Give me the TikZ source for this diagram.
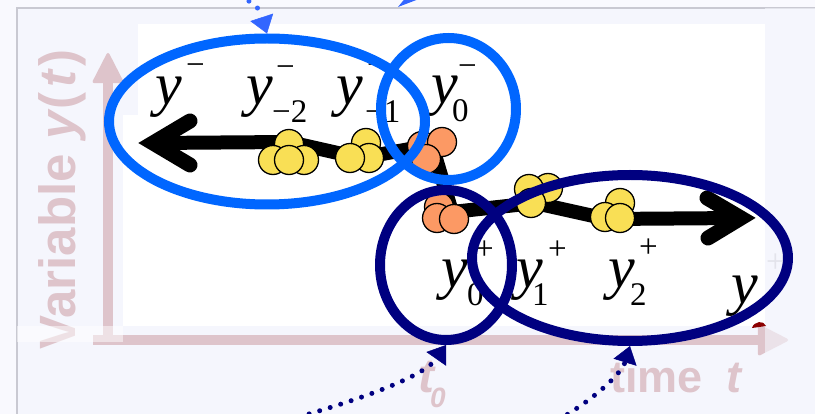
\documentclass[tikz,border=0pt]{standalone}
\usepackage{fontspec}
\setmainfont{Liberation Serif}
\newfontfamily\axfont{Liberation Sans}
\usetikzlibrary{arrows.meta,shapes.geometric}
\definecolor{bgc}{HTML}{F5F6FD}
\definecolor{bgl}{HTML}{F9F9FE}
\definecolor{framec}{HTML}{C9C9D2}
\definecolor{axpink}{HTML}{DEC4CB}
\definecolor{brblue}{HTML}{0066FF}
\definecolor{dotblue}{HTML}{3366FF}
\definecolor{navy}{HTML}{000080}
\definecolor{ballyel}{HTML}{F9DF55}
\definecolor{ballor}{HTML}{FC9964}
\definecolor{plusgray}{HTML}{C8C8D0}
\definecolor{dred}{HTML}{8B0000}
\tikzset{
  axisline/.style={draw=axpink, line width=10pt, -{Triangle[length=32pt,width=32pt,round,line width=3pt]}},
  axtext/.style={inner sep=0, anchor=base west, text=axpink, font=\axfont\bfseries\fontsize{48}{48}\selectfont},
  ymain/.style={inner sep=0, anchor=base west, font=\fontsize{60}{60}\selectfont\itshape},
  yidx/.style={inner sep=0, anchor=base west, font=\fontsize{33}{33}\selectfont},
  mainpath/.style={line width=14pt, line join=round},
  chevron/.style={line width=15pt, line join=miter, line cap=round},
  yball/.style={circle, draw=black, line width=1.3pt, fill=ballyel, minimum size=29pt, inner sep=0},
  oball/.style={circle, draw=black, line width=1.3pt, fill=ballor, minimum size=29pt, inner sep=0},
  ring/.style={ellipse, line width=10pt, inner sep=0, fill=none},
  dotarrow/.style={line width=5pt, dash pattern=on 0pt off 11pt, line cap=round,
    -{Triangle[length=17pt,width=24pt,line width=0.5pt]}},
}
\begin{document}
\begin{tikzpicture}[x=1pt,y=-1pt]
\useasboundingbox (0,0) rectangle (815,414);
\clip (0,0) rectangle (815,414);
% background and frame
\fill[bgl] (0,0) rectangle (815,414);
\fill[bgc] (17,8) rectangle (815,414);
\fill[white] (138,24) rectangle (765,326);
\fill[white] (123,115) rectangle (138,326);
\draw[framec, line width=1.5pt] (17,414) -- (17,8) -- (815,8);
% axes
\draw[axisline] (108,345) -- (108,53);
\draw[axisline] (93,340) -- (788,340);
\node[axtext, rotate=90, font=\axfont\bfseries\fontsize{51}{51}\selectfont] (vlab) at (75,350) {Variable \textit{y}(\kern5pt\textit{t}\kern2pt)};
\node[axtext] (tlab) at (418,393) {\textit{t}};
\node[axtext, font=\axfont\bfseries\fontsize{28}{28}\selectfont] (tsub) at (430,407) {\textit{0}};
\node[axtext, font=\axfont\bfseries\fontsize{45}{45}\selectfont] (timelab) at (610,393) {time};
\node[axtext, font=\axfont\bfseries\fontsize{45}{45}\selectfont] (timet) at (726,393) {\textit{t}};
% trajectory
\coordinate (p0) at (153,143);
\coordinate (p1) at (289,142);
\coordinate (p2) at (360,158);
\coordinate (p3) at (432,145);
\coordinate (p4) at (452,212);
\coordinate (p5) at (535,203);
\coordinate (p6) at (607,219);
\coordinate (p7) at (741,218);
\coordinate (la) at (190,121);
\coordinate (lb) at (190,165);
\coordinate (ra) at (707,198);
\coordinate (rb) at (708,238);
\draw[mainpath] (p0) -- (p1) -- (p2) -- (p3) -- (p4) -- (p5) -- (p6) -- (p7);
\draw[chevron] (la) -- (p0) -- (lb);
\draw[chevron] (ra) -- (p7) -- (rb);
% clusters
\node[yball] (a1) at (289,144) {};
\node[yball] (a2) at (273,160) {};
\node[yball] (a3) at (304,160) {};
\node[yball] (a4) at (289,160) {};
\node[yball] (b1) at (366,143) {};
\node[yball] (b2) at (369,158) {};
\node[yball] (b3) at (350,158) {};
\node[oball] (c1) at (422,146) {};
\node[oball] (c2) at (442,142) {};
\node[oball] (c3) at (426,159) {};
\node[oball] (d1) at (439,207) {};
\node[oball] (d2) at (437,218) {};
\node[oball] (d3) at (454,219) {};
\node[yball] (e1) at (548,188) {};
\node[yball] (e2) at (529,189) {};
\node[yball] (e3) at (531,203) {};
\node[yball] (f1) at (620,203) {};
\node[yball] (f2) at (605,217) {};
\node[yball] (f3) at (620,218) {};
% labels
\node[ymain] (ym) at (155,105) {y};
\node[yidx] (ymsup) at (186,76) {−};
\node[ymain] (ym2) at (246,105) {y};
\node[yidx] (ym2sup) at (276,78) {−};
\node[yidx] (ym2sub) at (272,123) {−2};
\node[ymain] (ym1) at (336,105) {y};
\node[yidx] (ym1sup) at (367,76) {−};
\node[yidx] (ym1sub) at (365,123) {−1};
\node[ymain] (ym0) at (431,104) {y};
\node[yidx] (ym0sup) at (458,77) {−};
\node[yidx] (ym0sub) at (452,122) {0};
\node[ymain] (yp0) at (441,288) {y};
\node[yidx] (yp0sup) at (475,260) {+};
\node[yidx] (yp0sub) at (467,306) {0};
\node[ymain] (yp1) at (516,288) {y};
\node[yidx] (yp1sup) at (548,260) {+};
\node[yidx] (yp1sub) at (532,306) {1};
\node[ymain] (yp2) at (608,288) {y};
\node[yidx] (yp2sup) at (639,258) {+};
\node[yidx] (yp2sub) at (630,306) {2};
\node[ymain] (yp) at (731,304) {y};
\node[yidx, text=plusgray] (ypsup) at (766,273) {+};
% overlays
\fill[bgc, opacity=0.6] (765,8) rectangle (815,414);
\fill[white, opacity=0.5] (17,326) rectangle (123,342);
\fill[dred] (752,328) .. controls (754,321) and (764,320) .. (766,326) -- cycle;
% rings
\node[ring, draw=brblue, minimum width=316pt, minimum height=166pt] (E1) at (267,121.5) {};
\node[ring, draw=brblue, minimum width=135pt, minimum height=142pt] (E2) at (448.5,109) {};
\node[ring, draw=navy, minimum width=132pt, minimum height=150pt] (E3) at (446,265) {};
\node[ring, draw=navy, minimum width=316pt, minimum height=166pt] (E4) at (630,258) {};
% dotted arrows
\coordinate (s0) at (230,-10);
\coordinate (s1) at (288,420);
\coordinate (s2) at (558,420);
\draw[dotarrow, draw=dotblue] (s0) .. controls (258,6) .. (E1.north);
\draw[dotarrow, draw=navy] (s1) .. controls (370,397) and (425,375) .. (E3.south);
\draw[dotarrow, draw=navy] (s2) .. controls (598,397) and (622,372) .. (E4.south);
\fill[dotblue] (398,7) -- (419,-1) -- (420,-20) -- cycle;
\end{tikzpicture}
\end{document}
